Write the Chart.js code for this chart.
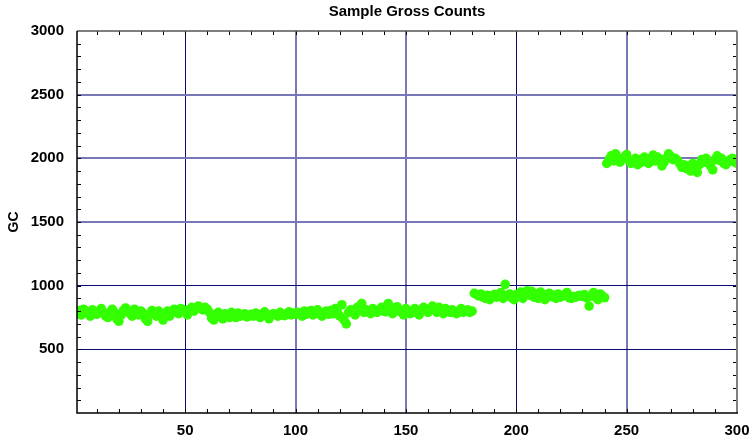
<!DOCTYPE html>
<html><head><meta charset="utf-8">
<script src="https://cdn.jsdelivr.net/npm/chart.js@4/dist/chart.umd.min.js"></script>
<style>html,body{margin:0;padding:0;background:#fff}</style>
</head><body>
<canvas id="c" width="750" height="441"></canvas>
<script>
const titleText = 'Sample Gross Counts';
const yAxisLabel = 'GC';
const xTickValues = [50, 100, 150, 200, 250, 300];
const yTickValues = [500, 1000, 1500, 2000, 2500, 3000];
const firstSample = 1;

// Gross counts, samples 1..180
const countsLow = [
  780, 805, 770, 815, 800, 790, 760, 810, 795, 775,
  800, 820, 785, 760, 750, 795, 815, 790, 740, 720,
  770, 805, 825, 800, 780, 760, 815, 790, 770, 800,
  785, 740, 720, 775, 805, 790, 760, 800, 780, 730,
  770, 800, 760, 790, 815, 800, 780, 820, 810, 795,
  770, 815, 830, 800, 820, 840, 825, 810, 830, 815,
  790, 745, 730, 770, 790, 760, 740, 780, 760, 750,
  790, 770, 750, 785, 760, 770, 780, 755, 765, 775,
  760, 785, 770, 750, 780, 795, 765, 740, 770, 780,
  775, 760, 790, 770, 765, 780, 795, 770, 785, 775,
  790, 780, 760, 800, 775, 790, 805, 770, 795, 810,
  780, 760, 790, 800, 775, 805, 780, 820, 790, 760,
  850, 730, 700, 790, 810, 800, 770, 830, 810, 860,
  790, 810, 795, 780, 820, 800, 790, 810, 830, 800,
  795, 860, 815, 780, 800, 835, 810, 790, 770, 820,
  800, 780, 790, 820, 795, 770, 810, 830, 805, 790,
  820, 840, 810, 790, 830, 800, 780, 820, 800, 790,
  810, 790, 780, 800, 820, 790, 800, 810, 790, 800
];
// samples 181..240
const countsMid = [
  940, 930, 920, 935, 910, 900, 925, 890, 915, 930,
  910, 925, 945, 900, 1010, 920, 935, 905, 890, 930,
  915, 950, 900, 940, 960, 925, 955, 910, 935, 900,
  950, 920, 890, 930, 940, 915, 925, 900, 935, 910,
  920, 930, 945, 905, 900, 915, 910, 920, 925, 915,
  930, 905, 840, 920, 945, 910, 890, 935, 920, 905
];
// samples 241..300
const countsHigh = [
  1960, 1990, 2020, 1980, 2035, 1995, 1970, 2000, 2010, 2030,
  1985, 1960, 1975, 2000, 1950, 1990, 1970, 2010, 1985, 1960,
  2000, 2025, 1980, 2010, 1995, 1940, 1970, 2000, 2035, 2015,
  1990, 2000, 1985, 1960, 1930, 1950, 1920, 1940, 1900, 1960,
  1930, 1890, 1950, 1990, 1970, 2000, 1960, 1940, 1910, 1990,
  2020, 1985, 2000, 1960, 1950, 1975, 1990, 2000, 1970, 1960
];

const allCounts = countsLow.concat(countsMid, countsHigh);
const points = allCounts.map((v, i) => ({ x: firstSample + i, y: v }));

const darkGrid = '#0a0a70', lightGrid = '#7878b8';
const xDark = [50, 200];
const yDark = [500, 1000];

function gridColor(darkList, edgeVals) {
  return ctx => {
    const v = ctx.tick ? ctx.tick.value : null;
    if (v === null || edgeVals.includes(v)) return 'rgba(0,0,0,0)';
    return darkList.includes(v) ? darkGrid : lightGrid;
  };
}
function gridWidth(darkList) {
  return ctx => {
    const v = ctx.tick ? ctx.tick.value : null;
    return darkList.includes(v) ? 1 : 2;
  };
}

const framePlugin = {
  id: 'frame',
  afterDatasetsDraw(chart) {
    const { ctx, chartArea: a, scales } = chart;
    const xs = scales.x, ys = scales.y;
    ctx.save();
    ctx.strokeStyle = '#000';
    ctx.lineWidth = 1;
    ctx.beginPath();
    for (let v = 10; v < 300; v += 10) {
      const px = Math.round(xs.getPixelForValue(v)) + 0.5;
      ctx.moveTo(px, a.bottom); ctx.lineTo(px, a.bottom - 4);
      ctx.moveTo(px, a.top); ctx.lineTo(px, a.top + 4);
    }
    for (let v = 100; v < 3000; v += 100) {
      const py = Math.round(ys.getPixelForValue(v)) + 0.5;
      ctx.moveTo(a.left, py); ctx.lineTo(a.left + 4, py);
      ctx.moveTo(a.right, py); ctx.lineTo(a.right - 4, py);
    }
    ctx.stroke();
    ctx.strokeStyle = '#555';
    ctx.lineWidth = 1.5;
    ctx.beginPath(); ctx.moveTo(a.left, a.top); ctx.lineTo(a.right, a.top); ctx.stroke();
    ctx.strokeStyle = '#808080';
    ctx.lineWidth = 2;
    ctx.beginPath(); ctx.moveTo(a.right, a.top); ctx.lineTo(a.right, a.bottom); ctx.stroke();
    ctx.strokeStyle = '#000';
    ctx.lineWidth = 1.5;
    ctx.beginPath();
    ctx.moveTo(a.left, a.top); ctx.lineTo(a.left, a.bottom); ctx.lineTo(a.right + 1, a.bottom);
    ctx.stroke();
    ctx.restore();
  }
};

const tickFont = { family: "'Liberation Sans', Arial, sans-serif", size: 15, weight: 'bold' };

new Chart(document.getElementById('c'), {
  type: 'scatter',
  data: {
    datasets: [{
      data: points,
      backgroundColor: '#33ff00',
      borderColor: '#33ff00',
      borderWidth: 0,
      pointRadius: 4.8,
      pointHoverRadius: 4.8,
      clip: 0
    }]
  },
  options: {
    responsive: false,
    animation: false,
    layout: { padding: { left: 0, right: 0, top: 0, bottom: 0 } },
    plugins: {
      legend: { display: false },
      tooltip: { enabled: false },
      title: {
        display: true,
        text: titleText,
        fullSize: false,
        color: '#000',
        font: { family: "'Liberation Sans', Arial, sans-serif", size: 15, weight: 'bold', lineHeight: 1.2 },
        padding: { top: 3, bottom: 10 }
      }
    },
    scales: {
      x: {
        type: 'linear',
        min: 1, max: 300,
        afterBuildTicks: s => { s.ticks = xTickValues.map(v => ({ value: v })); },
        afterFit: s => { s.height = 28; s.paddingRight = 13; },
        grid: { color: gridColor(xDark, [300]), lineWidth: gridWidth(xDark), drawTicks: false },
        border: { display: false },
        ticks: { color: '#000', font: tickFont, padding: 9, maxRotation: 0, callback: v => String(v) }
      },
      y: {
        type: 'linear',
        min: 0, max: 3000,
        afterBuildTicks: s => { s.ticks = yTickValues.map(v => ({ value: v })); },
        afterFit: s => { s.width = 77; },
        grid: { color: gridColor(yDark, [0, 3000]), lineWidth: gridWidth(yDark), drawTicks: false },
        border: { display: false },
        ticks: { color: '#000', font: tickFont, padding: 13, callback: v => String(v) },
        title: {
          display: true,
          text: yAxisLabel,
          color: '#000',
          font: { family: "'Liberation Sans', Arial, sans-serif", size: 14, weight: 'bold', lineHeight: 1.2 },
          padding: { top: 6, bottom: 0 }
        }
      }
    }
  },
  plugins: [framePlugin]
});
</script>
</body></html>
